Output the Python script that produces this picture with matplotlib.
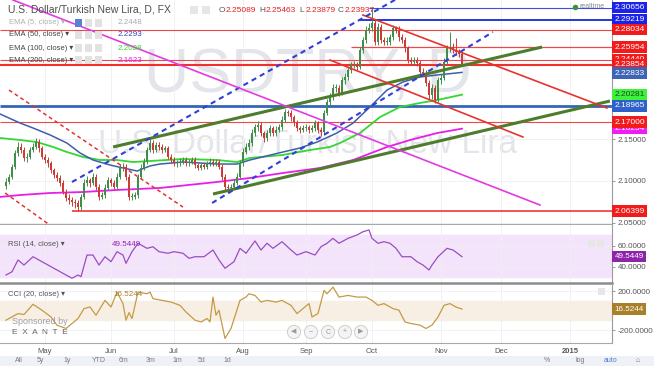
import matplotlib.pyplot as plt
from matplotlib.patches import Rectangle
from matplotlib.ticker import FormatStrFormatter
import numpy as np
import pandas as pd

plt.rcParams['font.family'] = ['Liberation Sans', 'DejaVu Sans']

# ---------------- data ----------------
first_day = '2014-04-14'
first_open = 2.094

closes = [2.099, 2.105, 2.117, 2.133, 2.141, 2.137, 2.127, 2.129, 2.137, 2.141,
          2.146, 2.139, 2.129, 2.125, 2.121, 2.113, 2.107, 2.104, 2.098, 2.087,
          2.080, 2.077, 2.075, 2.074, 2.069, 2.081, 2.098, 2.101, 2.098, 2.105,
          2.093, 2.081, 2.083, 2.092, 2.101, 2.098, 2.093, 2.105, 2.116, 2.117,
          2.105, 2.081, 2.081, 2.083, 2.105, 2.116, 2.123, 2.137, 2.145, 2.137,
          2.143, 2.141, 2.137, 2.139, 2.129, 2.125, 2.121, 2.121, 2.123, 2.125,
          2.121, 2.123, 2.125, 2.119, 2.116, 2.119, 2.117, 2.121, 2.123, 2.121,
          2.123, 2.117, 2.105, 2.093, 2.092, 2.093, 2.098, 2.105, 2.121, 2.135,
          2.141, 2.145, 2.157, 2.164, 2.167, 2.157, 2.151, 2.157, 2.163, 2.157,
          2.161, 2.164, 2.173, 2.182, 2.181, 2.176, 2.170, 2.163, 2.161, 2.163,
          2.164, 2.161, 2.163, 2.169, 2.161, 2.158, 2.181, 2.194, 2.200, 2.211,
          2.211, 2.205, 2.220, 2.224, 2.232, 2.238, 2.238, 2.236, 2.256, 2.268,
          2.280, 2.282, 2.288, 2.266, 2.283, 2.268, 2.266, 2.266, 2.271, 2.282,
          2.280, 2.271, 2.268, 2.258, 2.244, 2.242, 2.244, 2.241, 2.230, 2.229,
          2.217, 2.202, 2.211, 2.196, 2.220, 2.223, 2.242, 2.258, 2.260, 2.256,
          2.254, 2.2509, 2.2394]
highs = [2.103, 2.108, 2.120, 2.137, 2.146, 2.145, 2.140, 2.133, 2.140, 2.145,
         2.151, 2.150, 2.142, 2.132, 2.128, 2.124, 2.116, 2.111, 2.107, 2.101,
         2.090, 2.084, 2.081, 2.079, 2.077, 2.084, 2.102, 2.106, 2.104, 2.109,
         2.108, 2.096, 2.087, 2.096, 2.105, 2.104, 2.101, 2.109, 2.120, 2.122,
         2.120, 2.108, 2.086, 2.087, 2.108, 2.120, 2.127, 2.141, 2.150, 2.149,
         2.147, 2.146, 2.144, 2.142, 2.142, 2.132, 2.128, 2.125, 2.127, 2.129,
         2.128, 2.126, 2.128, 2.128, 2.122, 2.122, 2.122, 2.124, 2.127, 2.126,
         2.126, 2.126, 2.120, 2.108, 2.097, 2.097, 2.102, 2.109, 2.125, 2.139,
         2.145, 2.150, 2.162, 2.168, 2.172, 2.170, 2.160, 2.161, 2.167, 2.166,
         2.165, 2.168, 2.177, 2.186, 2.185, 2.184, 2.179, 2.173, 2.166, 2.167,
         2.168, 2.167, 2.167, 2.173, 2.172, 2.164, 2.185, 2.198, 2.205, 2.215,
         2.216, 2.214, 2.224, 2.228, 2.236, 2.242, 2.243, 2.242, 2.260, 2.272,
         2.285, 2.288, 2.306, 2.292, 2.288, 2.287, 2.272, 2.271, 2.275, 2.286,
         2.285, 2.284, 2.275, 2.271, 2.261, 2.248, 2.248, 2.248, 2.244, 2.234,
         2.232, 2.220, 2.215, 2.214, 2.224, 2.227, 2.246, 2.262, 2.277, 2.264,
         2.270, 2.257, 2.2546]
lows = [2.090, 2.096, 2.102, 2.114, 2.130, 2.133, 2.124, 2.123, 2.126, 2.134,
        2.138, 2.135, 2.126, 2.121, 2.117, 2.110, 2.103, 2.100, 2.094, 2.084,
        2.076, 2.073, 2.070, 2.068, 2.064, 2.065, 2.078, 2.094, 2.093, 2.095,
        2.089, 2.077, 2.078, 2.080, 2.089, 2.094, 2.090, 2.091, 2.102, 2.112,
        2.101, 2.077, 2.077, 2.078, 2.080, 2.102, 2.113, 2.120, 2.134, 2.133,
        2.134, 2.137, 2.133, 2.134, 2.126, 2.122, 2.118, 2.117, 2.118, 2.120,
        2.118, 2.118, 2.120, 2.116, 2.113, 2.113, 2.114, 2.114, 2.118, 2.118,
        2.118, 2.114, 2.101, 2.089, 2.088, 2.088, 2.090, 2.095, 2.102, 2.118,
        2.132, 2.137, 2.142, 2.153, 2.160, 2.153, 2.147, 2.148, 2.154, 2.153,
        2.154, 2.158, 2.161, 2.170, 2.177, 2.172, 2.166, 2.159, 2.157, 2.158,
        2.160, 2.157, 2.158, 2.160, 2.157, 2.154, 2.155, 2.178, 2.190, 2.197,
        2.206, 2.201, 2.202, 2.216, 2.220, 2.228, 2.234, 2.232, 2.233, 2.252,
        2.264, 2.276, 2.278, 2.262, 2.262, 2.264, 2.262, 2.262, 2.262, 2.268,
        2.276, 2.267, 2.264, 2.254, 2.240, 2.238, 2.238, 2.237, 2.226, 2.225,
        2.213, 2.198, 2.198, 2.193, 2.194, 2.216, 2.220, 2.239, 2.254, 2.252,
        2.250, 2.248, 2.2388]

ema50_bar = [-2, 4.7, 9, 14.7, 20.3, 24.7, 29, 34.7, 39, 43.7, 48, 51.3, 59, 70.3,
             77, 81.3, 92.3, 98, 103.7, 110.3, 115.7, 121.3, 127, 132.3, 138, 143.7, 152]
ema50_val = [2.1798, 2.1690, 2.1631, 2.1548, 2.1452, 2.1333, 2.1250, 2.1190, 2.1155,
             2.1119, 2.1179, 2.1202, 2.1226, 2.1202, 2.1202, 2.1250, 2.1345, 2.1393,
             2.1464, 2.1571, 2.1690, 2.1881, 2.2083, 2.2179, 2.2238, 2.2262, 2.2293]
ema100_bar = [-2, 4.7, 10.3, 15.7, 20.3, 25.7, 31.3, 37, 42.3, 48, 59, 70.3, 77, 81.3,
              92.3, 101.3, 108, 111.3, 118, 124.7, 131.3, 138, 143.7, 152]
ema100_val = [2.1512, 2.1488, 2.1464, 2.1405, 2.1345, 2.1286, 2.1250, 2.1250, 2.1226,
              2.1238, 2.1262, 2.1250, 2.1226, 2.1274, 2.1310, 2.1369, 2.1405, 2.1452,
              2.1571, 2.1762, 2.1881, 2.1929, 2.1964, 2.2028]
ema200_bar = [-2, 4.7, 14.7, 25.7, 37, 51.3, 70.3, 81.3, 92.3, 104.7, 115.7, 127,
              134.7, 143.7, 152]
ema200_val = [2.0810, 2.0833, 2.0857, 2.0869, 2.0893, 2.0917, 2.0988, 2.1036, 2.1095,
              2.1155, 2.1250, 2.1405, 2.1488, 2.1571, 2.1623]

rsi_bar = [0, 2, 4, 6, 9, 12, 15, 17, 20, 22, 24, 25, 27, 29, 31, 33, 35, 37, 39, 40,
           42, 44, 47, 49, 51, 54, 56, 59, 61, 63, 66, 69, 71, 73, 76, 78, 80, 83, 85,
           87, 89, 92, 95, 97, 100, 103, 105, 107, 109, 111, 114, 117, 119, 121, 122,
           124, 126, 128, 130, 132, 135, 137, 139, 141, 142, 144, 147, 149, 152]
rsi_val = [32.1, 35.2, 46.4, 41.6, 49.5, 44.8, 40.0, 36.9, 32.1, 29.0, 32.1, 30.5, 51.1,
           51.1, 41.6, 49.5, 44.8, 54.3, 51.1, 43.2, 54.3, 62.3, 57.5, 59.0, 54.3, 52.8,
           54.3, 52.8, 48.0, 49.5, 49.5, 55.9, 46.4, 38.5, 44.8, 57.5, 52.8, 64.5, 55.9,
           62.3, 57.5, 63.8, 55.9, 51.1, 54.3, 51.1, 59.0, 62.3, 67.0, 62.3, 67.0, 70.2,
           73.3, 75.0, 67.0, 62.3, 63.8, 62.3, 57.5, 49.5, 49.5, 44.8, 41.6, 36.9, 41.6,
           49.5, 57.5, 55.9, 49.5449]

cci_bar = [0, 4, 6, 9, 12, 15, 17, 20, 22, 24, 26, 28, 30, 33, 35, 37, 39, 40, 41, 42,
           44, 47, 48, 49, 52, 55, 58, 60, 63, 65, 67, 68, 69, 70, 71, 73, 75, 78, 80,
           81, 83, 85, 87, 90, 92, 95, 97, 99, 101, 102, 104, 106, 107, 109, 111, 114,
           117, 120, 122, 124, 126, 129, 131, 133, 135, 138, 140, 142, 144, 146, 148,
           150, 152]
cci_val = [-98, -30, -40, 65, 4, -65, -149, -183, -132, -81, 21, 37, -47, 105, 37, 190,
           72, -98, -20, -81, 190, 173, 190, 123, 105, 88, 54, -14, -98, -116, -81, -116,
           139, -47, 4, -285, -183, 105, 139, 173, 156, 88, 105, 88, 105, 54, -30, 21, 72,
           -65, -30, 207, 173, 241, 139, 156, 139, 139, 105, 54, 72, 21, 4, -116, -132,
           -149, -183, -149, -65, 54, 72, 37, 16.5244]

# drawn trend lines: (bar0, price0, bar1, price1)
green_lines = [(35.7, 2.1405, 178.7, 2.2595), (69, 2.0845, 201.3, 2.1952)]
red_lines = [(119, 2.2976, 200.3, 2.1869), (108, 2.2440, 172.3, 2.1524)]
blue_dashed = [(22, 2.0988, 130, 2.3163), (68.7, 2.0738, 162.3, 2.2774)]
red_dashed = [(1, 2.2083, 59, 2.0690), (-0.3, 2.0857, 16, 2.0440)]
magenta_lines = [(2.3, 2.3155, 178, 2.0714)]

# horizontal levels and the bar they start from
h_levels = [2.30656, 2.29219, 2.28034, 2.25954, 2.24440, 2.23854, 2.18965, 2.17000, 2.06399]
h_start = [121, 118, -2, 115, -2, -2, -2, -2, 22]

# price-scale badges
badge_vals = [2.30656, 2.29219, 2.28034, 2.24440, 2.25954, 2.23854, 2.22833,
              2.20281, 2.18965, 2.16234, 2.17000, 2.06399]

ohlc_last = ['2.25089', '2.25463', '2.23879', '2.23937']
ema_names = ['EMA (5, close)', 'EMA (50, close)', 'EMA (100, close)', 'EMA (200, close)']
ema_last = ['2.2448', '2.2293', '2.2028', '2.1623']
rsi_last = 49.5449
cci_last = 16.5244

# ---------------- styles ----------------
UP, DOWN = '#3f8f4a', '#cc3b35'
h_colors = ['#3c4fe0', '#2438d8', '#f04848', '#f04848', '#f04848', '#f03030',
            '#3466b8', '#f04848', '#f04848']
h_widths = [0.8, 1.4, 0.8, 0.9, 0.8, 1.5, 2.0, 0.8, 1.3]
badge_colors = ['#1c22e6', '#1c22e6', '#f21b1b', '#f21b1b', '#f21b1b', '#f21b1b',
                '#3e65b5', '#3cf23c', '#2f62c8', '#f01cf0', '#f21b1b', '#f21b1b']
badge_text = ['white'] * 7 + ['#1c4a1c'] + ['white'] * 4
ema_colors = ['#aaaaaa', '#2c3fc0', '#33d633', '#e81ee8']

W, H = 654, 366


def fx(px):
    return px / W


def fy(py):
    return 1 - py / H


fig = plt.figure(figsize=(W / 100, H / 100), dpi=100)
ax = fig.add_axes([0, fy(224), fx(612), 224 / H])
ax_rsi = fig.add_axes([0, fy(283), fx(612), (283 - 225) / H])
ax_cci = fig.add_axes([0, fy(343), fx(612), (343 - 284.5) / H])

month_days = pd.bdate_range(first_day, periods=215)
month_pos, month_lab = [], []
for i in range(1, len(month_days)):
    if month_days[i].month != month_days[i - 1].month and i <= 202:
        month_pos.append(i)
        d = month_days[i]
        month_lab.append(str(d.year) if d.month == 1 else d.strftime('%b'))

for a in (ax, ax_rsi, ax_cci):
    a.set_xlim(-2, 202)
    a.set_xticks(month_pos)
    a.grid(True, color='#efefef', lw=0.6)
    a.set_axisbelow(True)
    for s in ('left', 'top'):
        a.spines[s].set_visible(False)
    a.spines['right'].set_color('#9a9a9a')
    a.spines['right'].set_linewidth(0.8)
    a.spines['bottom'].set_color('#a8a8a8')
    a.spines['bottom'].set_linewidth(0.8)
    a.yaxis.tick_right()
    a.tick_params(axis='y', labelsize=5.8, labelcolor='#555555', color='#888888',
                  length=2.5, width=0.6, pad=1.5)
    a.tick_params(axis='x', length=0, labelbottom=False)
ax_rsi.spines['bottom'].set_linewidth(1.8)
ax_rsi.spines['bottom'].set_color('#8c8c8c')

# ---------------- price pane ----------------
ax.set_ylim(2.0488, 2.3155)
ax.set_yticks([2.05, 2.10, 2.15])
ax.yaxis.set_major_formatter(FormatStrFormatter('%.5f'))

ax.text(0.503, 0.665, 'USDTRY, D', transform=ax.transAxes, ha='center', va='center',
        fontsize=45, color='#e4e5ea', zorder=0)
ax.text(0.503, 0.355, 'U.S. Dollar/Turkish New Lira', transform=ax.transAxes,
        ha='center', va='center', fontsize=24, color='#e4e5ea', zorder=0)

for lv, st, c, w in zip(h_levels, h_start, h_colors, h_widths):
    ax.hlines(lv, st, 202, colors=c, lw=w, zorder=2)

ax.plot(ema200_bar, ema200_val, color=ema_colors[3], lw=1.3, zorder=3)
ax.plot(ema100_bar, ema100_val, color=ema_colors[2], lw=1.3, zorder=3)
ax.plot(ema50_bar, ema50_val, color='#3e5fa8', lw=1.1, zorder=3)

idx = np.arange(len(closes))
c_arr = np.array(closes)
o_arr = np.array([first_open] + closes[:-1])
cols = np.where(c_arr >= o_arr, UP, DOWN)
ax.vlines(idx, lows, highs, colors=cols, lw=0.7, zorder=4)
ax.bar(idx, np.maximum(np.abs(c_arr - o_arr), 0.0007), bottom=np.minimum(c_arr, o_arr),
       width=0.62, color=cols, lw=0, zorder=5)

for b0, p0, b1, p1 in green_lines:
    ax.plot([b0, b1], [p0, p1], color='#4d7d2c', lw=2.2, zorder=6, solid_capstyle='butt')
for b0, p0, b1, p1 in red_lines:
    ax.plot([b0, b1], [p0, p1], color='#e8322e', lw=1.2, zorder=6)
for b0, p0, b1, p1 in blue_dashed:
    ax.plot([b0, b1], [p0, p1], color='#2f3fd8', lw=1.5, ls=(0, (2.5, 2)), zorder=6)
for b0, p0, b1, p1 in red_dashed:
    ax.plot([b0, b1], [p0, p1], color='#e8322e', lw=1.1, ls=(0, (2.5, 2)), zorder=6)
for b0, p0, b1, p1 in magenta_lines:
    ax.plot([b0, b1], [p0, p1], color='#e03ce0', lw=1.2, zorder=6)

for v, bc, tc in zip(badge_vals, badge_colors, badge_text):
    ax.text(1.004, v, f'{v:.5f}', transform=ax.get_yaxis_transform(), ha='left',
            va='center', fontsize=6, color=tc, clip_on=False, zorder=10,
            bbox=dict(boxstyle='square,pad=0.28', fc=bc, ec='none'))

ax.plot([0.9395], [0.969], 'o', transform=ax.transAxes, ms=3, color='#3d8f4a', zorder=8)
ax.text(0.947, 0.969, 'realtime', transform=ax.transAxes, fontsize=5, va='center',
        color='#8a8a8a', zorder=8)

# header
fig.text(fx(8), fy(10), 'U.S. Dollar/Turkish New Lira, D, FX', fontsize=7.5,
         color='#4d4d4d', va='center')
ohlc_x = [219, 259, 299, 338]
for lab, val, x0 in zip('OHLC', ohlc_last, ohlc_x):
    fig.text(fx(x0), fy(10), lab, fontsize=6, color='#555555', va='center')
    fig.text(fx(x0 + 7), fy(10), val, fontsize=6, color='#e02020', va='center')
for x0 in (190, 202):
    fig.add_artist(Rectangle((fx(x0), fy(14)), 8 / W, 8 / H, transform=fig.transFigure,
                             fc='#e6e6e6', ec='none'))

ema_rows = [23, 35, 48, 60]
for name, val, col, y0 in zip(ema_names, ema_last, ema_colors, ema_rows):
    tcol = '#b0b0b0' if col == '#aaaaaa' else '#444444'
    fig.text(fx(9), fy(y0), name + ' \u25be', fontsize=5.5, color=tcol, va='center')
    fig.text(fx(118), fy(y0), val, fontsize=5.8, color=col, va='center')
    for k, x0 in enumerate((75, 85, 95)):
        fc = '#5a7fd8' if (y0 == 23 and k == 0) else '#e2e2e2'
        fig.add_artist(Rectangle((fx(x0), fy(y0 + 3.5)), 7 / W, 7 / H,
                                 transform=fig.transFigure, fc=fc, ec='none'))

# ---------------- RSI pane ----------------
ax_rsi.set_ylim(24.5, 79.7)
ax_rsi.axhspan(30, 70, color='#f3e4fb', zorder=0)
ax_rsi.plot(rsi_bar, rsi_val, color='#9b4dc2', lw=0.9, zorder=3)
ax_rsi.set_yticks([40, 60])
ax_rsi.yaxis.set_major_formatter(FormatStrFormatter('%.4f'))
ax_rsi.text(1.004, rsi_last, f'{rsi_last:.4f}', transform=ax_rsi.get_yaxis_transform(),
            ha='left', va='center', fontsize=5.8, color='white', clip_on=False, zorder=10,
            bbox=dict(boxstyle='square,pad=0.28', fc='#8e24aa', ec='none'))
fig.text(fx(8), fy(245), 'RSI (14, close) \u25be', fontsize=5.5, color='#555555', va='center')
fig.text(fx(112), fy(245), f'{rsi_last:.4f}', fontsize=5.8, color='#8e24aa', va='center')

# ---------------- CCI pane ----------------
ax_cci.set_ylim(-332, 268)
ax_cci.axhspan(-100, 100, color='#f8efe4', zorder=0)
ax_cci.plot(cci_bar, cci_val, color='#c49a46', lw=0.9, zorder=3)
ax_cci.set_yticks([-200, 200])
ax_cci.yaxis.set_major_formatter(FormatStrFormatter('%.4f'))
ax_cci.text(1.004, cci_last, f'{cci_last:.4f}', transform=ax_cci.get_yaxis_transform(),
            ha='left', va='center', fontsize=5.8, color='white', clip_on=False, zorder=10,
            bbox=dict(boxstyle='square,pad=0.28', fc='#a8802a', ec='none'))
fig.text(fx(8), fy(294), 'CCI (20, close) \u25be', fontsize=5.5, color='#555555', va='center')
fig.text(fx(113), fy(294), f'{cci_last:.4f}', fontsize=5.8, color='#a8802a', va='center')

ax_cci.set_xticklabels(month_lab)
ax_cci.tick_params(axis='x', labelbottom=True, labelsize=5.5, labelcolor='#555555', pad=3.5)
for t in ax_cci.get_xticklabels():
    if t.get_text().isdigit():
        t.set_fontweight('bold')

fig.text(fx(12), fy(322), 'Sponsored by', fontsize=6.5, color='#a0a0a0', va='center')
fig.text(fx(12), fy(333), 'E  X  A  N  T  E', fontsize=6, color='#666666', va='center')
for x0, g in zip((294, 311, 328, 345, 361), ('\u25c0', '\u2212', 'C', '+', '\u25b6')):
    fig.text(fx(x0), fy(332), g, fontsize=5, color='#9a9a9a', ha='center', va='center',
             bbox=dict(boxstyle='circle,pad=0.45', fc='#f4f4f4', ec='#c8c8c8', lw=0.6))

# pane tool icons
for x0, y0 in ((588, 243), (597, 243), (598, 291)):
    fig.add_artist(Rectangle((fx(x0), fy(y0 + 3.5)), 7 / W, 7 / H,
                             transform=fig.transFigure, fc='#e6e6e6', ec='none'))

# bottom toolbar
fig.add_artist(Rectangle((0, 0), 1, 10 / H, transform=fig.transFigure,
                         fc='#eef1f6', ec='none', zorder=0))
for x0, lab in zip((15, 37, 63, 92, 119, 146, 172, 198, 223),
                   ('All', '5y', '1y', 'YTD', '6m', '3m', '1m', '5d', '1d')):
    fig.text(fx(x0), fy(361), lab, fontsize=5, color='#7a7a7a', va='center')
for x0, lab, c in ((544, '%', '#7a7a7a'), (575, 'log', '#7a7a7a'), (604, 'auto', '#4a7fd8'),
                   (636, '\u2302', '#7a7a7a')):
    fig.text(fx(x0), fy(361), lab, fontsize=5, color=c, va='center')

fig.savefig('out.png', dpi=100)
